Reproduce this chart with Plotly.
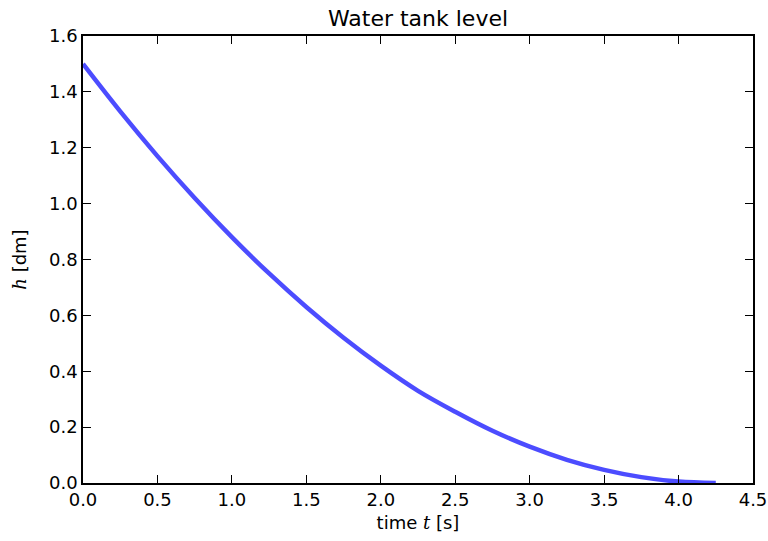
import plotly.graph_objects as go

time_s = [0.0, 0.25, 0.5, 0.75, 1.0, 1.25, 1.5, 1.75, 2.0, 2.25, 2.5, 2.75,
          3.0, 3.25, 3.5, 3.75, 4.0, 4.25]
level_dm = [1.50, 1.33, 1.17, 1.02, 0.88, 0.75, 0.63, 0.52, 0.42, 0.33, 0.255, 0.187,
            0.13, 0.083, 0.047, 0.021, 0.005, 0.0]

x_ticks = [0.0, 0.5, 1.0, 1.5, 2.0, 2.5, 3.0, 3.5, 4.0, 4.5]
y_ticks = [0.0, 0.2, 0.4, 0.6, 0.8, 1.0, 1.2, 1.4, 1.6]

FONT = "DejaVu Sans"
SERIF = "DejaVu Serif"

fig = go.Figure()
fig.add_trace(go.Scatter(
    x=time_s, y=level_dm, mode="lines", line_shape="spline",
    line=dict(color="rgba(0,0,255,0.7)", width=4.5), showlegend=False,
))

axis_common = dict(
    showgrid=False, zeroline=False, showline=True, linecolor="black", linewidth=1.5,
    mirror="ticks", ticks="inside", ticklen=8, tickwidth=1, tickcolor="black",
    tickfont=dict(family=FONT, size=18, color="black"), automargin=False,
)

fig.update_layout(
    width=768, height=541,
    margin=dict(l=83, r=15, t=36, b=58),
    paper_bgcolor="white", plot_bgcolor="white",
    title=dict(text="Water tank level", x=0.5, xref="paper", y=0.952, yanchor="bottom",
               font=dict(family=FONT, size=22, color="black")),
    xaxis=dict(range=[0, 4.5], tickvals=x_ticks, ticktext=[f"{v:.1f}" for v in x_ticks],
               title=dict(text=f"time <span style='font-family:{SERIF}'><i>t</i></span> [s]",
                          font=dict(family=FONT, size=18, color="black"), standoff=7),
               **axis_common),
    yaxis=dict(range=[0, 1.6], tickvals=y_ticks, ticktext=[f"{v:.1f}" for v in y_ticks],
               title=dict(text=f"<span style='font-family:{SERIF}'><i>h</i></span> [dm]",
                          font=dict(family=FONT, size=18, color="black"), standoff=18),
               **axis_common),
)

fig.write_html("out.html")
